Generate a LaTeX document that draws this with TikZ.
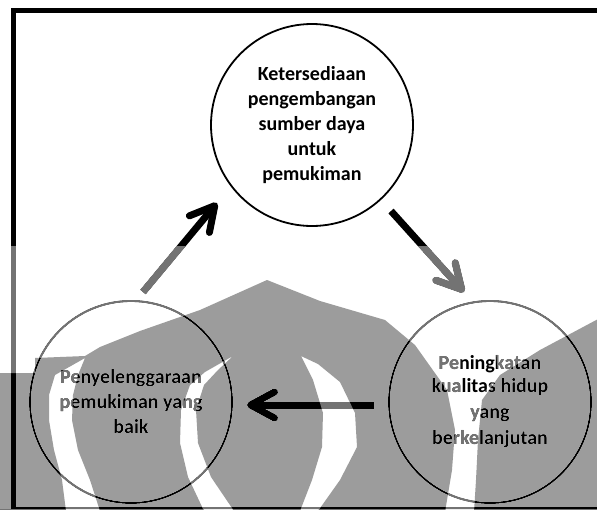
\documentclass[tikz,border=0pt]{standalone}
\usepackage{fontspec}
\setmainfont{Carlito}
\usetikzlibrary{arrows.meta}
\definecolor{wmdark}{gray}{0.61}
\definecolor{wmlight}{gray}{0.45}
\tikzset{
  stage/.style={circle, draw=black, line width=1.8pt, minimum size=202pt,
    inner sep=0pt, align=center,
    font=\fontsize{20}{25}\selectfont\bfseries},
  flow/.style={line width=7pt,
    -{Straight Barb[length=24pt,width=26pt,round]}},
  frame/.style={line width=5pt},
  % watermark outline pieces
  dome/.style={insert path={(-2,373) -- (35,373) -- (35,358) -- (85,356) -- (100,347)
    -- (140,331) -- (200,310) -- (267,280) -- (320,301) -- (385,320) -- (415,345)
    -- (447,390) -- (455,430) -- (452,470) -- (445,512) -- (-2,512) -- cycle}},
  crescA/.style={insert path={(85,358) -- (55,375) -- (49,395) -- (49,420) -- (54,450)
    -- (62,480) -- (66,511) -- (100,511) -- (90,480) -- (78,450) -- (72,420)
    -- (73,395) -- (78,375) -- cycle}},
  crescB/.style={insert path={(233,356) -- (205,372) -- (190,385) -- (181,410) -- (180,443)
    -- (188,477) -- (204,511) -- (234,511) -- (211,477) -- (198,443) -- (196,410)
    -- (204,385) -- (218,370) -- cycle}},
  crescC/.style={insert path={(301,356) -- (313,380) -- (323,413) -- (322,447) -- (312,480)
    -- (300,511) -- (318,511) -- (340,480) -- (357,447) -- (355,413) -- (340,382)
    -- (318,364) -- cycle}},
  wing/.style={insert path={(600,318) -- (540,350) -- (500,375) -- (482,400) -- (478,440)
    -- (476,480) -- (474,512) -- (600,512) -- cycle}},
  gap/.style={insert path={(461,351) -- (496,351) -- (498,374) -- (480,398)
    -- (461,398) -- cycle}}
}
\begin{document}
\begin{tikzpicture}[x=1pt,y=-1pt]
\useasboundingbox (0,0) rectangle (597,509);
\fill[white] (0,0) rectangle (597,509);

% frame
\draw[frame] (13.5,509) -- (13.5,10.8) -- (597,10.8);
\draw[line width=2.4pt] (11,507.8) -- (597,507.8);

% stages
\node[stage] (top) at (312,125)
  {Ketersediaan\\pengembangan\\sumber daya\\untuk\\pemukiman};
\node[stage] (left) at (131,402)
  {Penyelenggaraan\\pemukiman yang\\baik};
\node[stage, font=\fontsize{20}{26}\selectfont\bfseries] (right) at (490,402)
  {\raisebox{-3pt}{Peningkatan}\\kualitas hidup\\yang\\berkelanjutan};

% arrow ends
\coordinate (u0) at (143,292);
\coordinate (u1) at (217,203);
\coordinate (d0) at (391,211);
\coordinate (d1) at (464,292);
\coordinate (l0) at (374,405);
\coordinate (l1) at (247,405);

\draw[flow] (u0) -- (u1);
\draw[flow] (d0) -- (d1);
\draw[flow] (l0) -- (l1);

% watermark: light band and dark emblem
\begin{scope}[blend mode=lighten]
  \fill[wmlight, even odd rule] (0,246) rectangle (597,509)
    [dome] [crescA] [crescB] [crescC] [wing] [gap];
\end{scope}
\begin{scope}[blend mode=darken]
  \fill[wmdark, even odd rule] [dome] [crescA] [crescB] [crescC] [wing];
\end{scope}
\end{tikzpicture}
\end{document}
